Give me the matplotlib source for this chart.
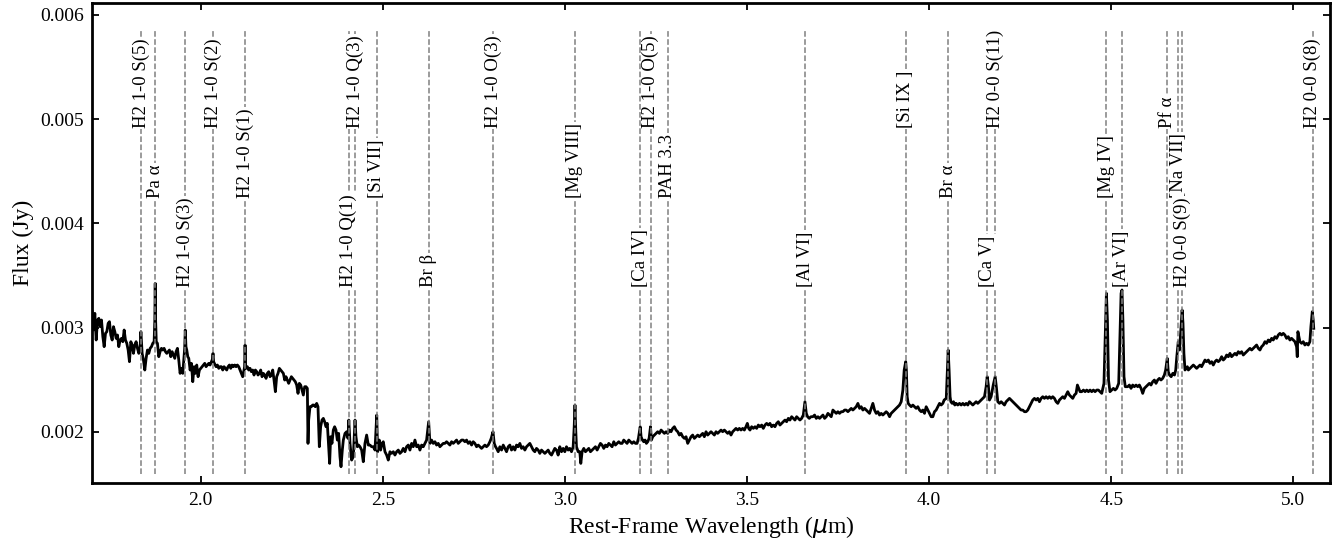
import numpy as np
import matplotlib
matplotlib.use("Agg")
import matplotlib.pyplot as plt

# rest-frame wavelength (micron) and flux (mJy)
wave = [
    1.7020, 1.7056, 1.7093, 1.7130, 1.7166, 1.7203, 1.7239, 1.7276, 1.7313, 1.7349,
    1.7386, 1.7422, 1.7459, 1.7495, 1.7532, 1.7569, 1.7605, 1.7642, 1.7678, 1.7715,
    1.7751, 1.7788, 1.7825, 1.7861, 1.7898, 1.7934, 1.7971, 1.8008, 1.8044, 1.8081,
    1.8117, 1.8154, 1.8190, 1.8227, 1.8264, 1.8300, 1.8337, 1.8358, 1.8392, 1.8428,
    1.8465, 1.8501, 1.8538, 1.8575, 1.8611, 1.8648, 1.8684, 1.8721, 1.8740, 1.8751,
    1.8762, 1.8780, 1.8812, 1.8849, 1.8885, 1.8922, 1.8959, 1.8995, 1.9032, 1.9068,
    1.9105, 1.9141, 1.9178, 1.9215, 1.9251, 1.9288, 1.9324, 1.9361, 1.9398, 1.9434,
    1.9471, 1.9507, 1.9544, 1.9560, 1.9576, 1.9595, 1.9617, 1.9645, 1.9672, 1.9709,
    1.9745, 1.9782, 1.9818, 1.9855, 1.9891, 1.9928, 1.9965, 2.0001, 2.0038, 2.0074,
    2.0111, 2.0147, 2.0184, 2.0221, 2.0257, 2.0294, 2.0320, 2.0338, 2.0355, 2.0376,
    2.0422, 2.0458, 2.0495, 2.0532, 2.0568, 2.0605, 2.0641, 2.0678, 2.0714, 2.0751,
    2.0788, 2.0824, 2.0861, 2.0897, 2.0934, 2.0971, 2.1007, 2.1044, 2.1080, 2.1117,
    2.1153, 2.1190, 2.1205, 2.1218, 2.1232, 2.1245, 2.1281, 2.1318, 2.1355, 2.1391,
    2.1428, 2.1464, 2.1501, 2.1538, 2.1574, 2.1611, 2.1647, 2.1684, 2.1720, 2.1757,
    2.1794, 2.1830, 2.1867, 2.1903, 2.1940, 2.1977, 2.2013, 2.2050, 2.2086, 2.2123,
    2.2159, 2.2196, 2.2232, 2.2269, 2.2306, 2.2342, 2.2379, 2.2415, 2.2452, 2.2489,
    2.2525, 2.2562, 2.2598, 2.2635, 2.2672, 2.2708, 2.2745, 2.2781, 2.2818, 2.2855,
    2.2891, 2.2928, 2.2946, 2.2964, 2.3001, 2.3037, 2.3074, 2.3110, 2.3147, 2.3184,
    2.3220, 2.3257, 2.3293, 2.3330, 2.3367, 2.3403, 2.3440, 2.3476, 2.3513, 2.3540,
    2.3568, 2.3604, 2.3641, 2.3677, 2.3714, 2.3751, 2.3787,
    2.3824, 2.3852, 2.3888, 2.3916, 2.3962, 2.4007, 2.4044, 2.4066, 2.4099, 2.4144,
    2.4190, 2.4237, 2.4263, 2.4300, 2.4336, 2.4373, 2.4419, 2.4464, 2.4510, 2.4556,
    2.4602, 2.4647, 2.4693, 2.4739, 2.4785, 2.4833, 2.4858, 2.4903, 2.4940, 2.4977,
    2.5013, 2.5059, 2.5105, 2.5150, 2.5196, 2.5242, 2.5288, 2.5333, 2.5379, 2.5425,
    2.5470, 2.5516, 2.5562, 2.5608, 2.5653, 2.5699, 2.5745, 2.5791, 2.5836, 2.5882,
    2.5928, 2.5973, 2.6019, 2.6065, 2.6111, 2.6156, 2.6202, 2.6259, 2.6294, 2.6339,
    2.6385, 2.6431, 2.6476, 2.6522, 2.6568, 2.6614, 2.6659, 2.6705, 2.6751, 2.6797,
    2.6842, 2.6888, 2.6934, 2.6979, 2.7025, 2.7071, 2.7117, 2.7162, 2.7208, 2.7254,
    2.7300, 2.7345, 2.7391, 2.7437, 2.7482, 2.7528, 2.7574, 2.7620, 2.7665, 2.7711,
    2.7757, 2.7803, 2.7848, 2.7894, 2.7940, 2.7976, 2.8025, 2.8059, 2.8095, 2.8123,
    2.8168, 2.8214, 2.8260, 2.8306, 2.8351, 2.8397, 2.8443, 2.8488, 2.8534, 2.8580,
    2.8626, 2.8671, 2.8717, 2.8763, 2.8809, 2.8854, 2.8900, 2.8946, 2.8991, 2.9037,
    2.9083, 2.9129, 2.9174, 2.9220, 2.9266, 2.9311, 2.9357, 2.9403, 2.9449, 2.9494,
    2.9540, 2.9586, 2.9632, 2.9677, 2.9723, 2.9769, 2.9814, 2.9860, 2.9906, 2.9952,
    2.9997, 3.0043, 3.0089, 3.0134, 3.0180, 3.0226, 3.0255, 3.0276, 3.0297,
    3.0317, 3.0363, 3.0408, 3.0436, 3.0472, 3.0518, 3.0564, 3.0610, 3.0655, 3.0701,
    3.0747, 3.0792, 3.0838, 3.0884, 3.0930, 3.0975, 3.1021, 3.1067, 3.1113, 3.1158,
    3.1204, 3.1250, 3.1295, 3.1341, 3.1387, 3.1433, 3.1478, 3.1524, 3.1570, 3.1615,
    3.1661, 3.1707, 3.1753, 3.1798, 3.1844, 3.1890, 3.1936, 3.1981, 3.2018, 3.2067,
    3.2091, 3.2128, 3.2164, 3.2201, 3.2237, 3.2274, 3.2311, 3.2350, 3.2375, 3.2411,
    3.2457, 3.2503, 3.2548, 3.2594, 3.2640, 3.2685, 3.2731, 3.2777, 3.2823, 3.2868,
    3.2914, 3.2960, 3.3005, 3.3051, 3.3097, 3.3143, 3.3188, 3.3234, 3.3280, 3.3326,
    3.3371, 3.3417, 3.3463, 3.3508, 3.3554, 3.3600, 3.3646, 3.3691, 3.3737, 3.3783,
    3.3828, 3.3874, 3.3920, 3.3966, 3.4011, 3.4057, 3.4103, 3.4148, 3.4194, 3.4240,
    3.4286, 3.4331, 3.4377, 3.4423, 3.4469, 3.4514, 3.4560, 3.4606, 3.4651, 3.4697,
    3.4743, 3.4789, 3.4834, 3.4880, 3.4926, 3.4971, 3.5008, 3.5045, 3.5081, 3.5127,
    3.5173, 3.5219, 3.5264, 3.5310, 3.5356, 3.5402, 3.5447, 3.5493, 3.5539, 3.5584,
    3.5630, 3.5676, 3.5722, 3.5767, 3.5813, 3.5859, 3.5904, 3.5950, 3.5996, 3.6042,
    3.6087, 3.6133, 3.6179, 3.6225, 3.6270, 3.6316, 3.6362, 3.6407, 3.6453, 3.6499,
    3.6545, 3.6590, 3.6627, 3.6663, 3.6709, 3.6755,
    3.6809, 3.6855, 3.6901, 3.6947, 3.6992, 3.7038, 3.7084, 3.7130, 3.7175, 3.7221,
    3.7267, 3.7312, 3.7358, 3.7404, 3.7450, 3.7495, 3.7541, 3.7587, 3.7632, 3.7678,
    3.7724, 3.7770, 3.7815, 3.7861, 3.7907, 3.7952, 3.7998, 3.8044, 3.8090, 3.8135,
    3.8181, 3.8227, 3.8272, 3.8318, 3.8364, 3.8410, 3.8455, 3.8501, 3.8547, 3.8593,
    3.8638, 3.8684, 3.8730, 3.8775, 3.8821, 3.8867, 3.8913, 3.8958, 3.9004, 3.9050,
    3.9096, 3.9141, 3.9187, 3.9233, 3.9279, 3.9315, 3.9340, 3.9357, 3.9375, 3.9397,
    3.9425, 3.9462, 3.9507, 3.9553, 3.9599, 3.9644, 3.9690, 3.9736, 3.9782, 3.9827,
    3.9873, 3.9919, 3.9965, 4.0010, 4.0056, 4.0102, 4.0147, 4.0193, 4.0239, 4.0285,
    4.0330, 4.0376, 4.0412, 4.0470, 4.0500, 4.0523, 4.0548, 4.0575, 4.0596, 4.0632,
    4.0669, 4.0705, 4.0742, 4.0787, 4.0833, 4.0879, 4.0925, 4.0970, 4.1016, 4.1062,
    4.1107, 4.1153, 4.1199, 4.1245, 4.1290, 4.1336, 4.1382, 4.1428, 4.1473, 4.1519,
    4.1565, 4.1594, 4.1625, 4.1656, 4.1702, 4.1760, 4.1813, 4.1845, 4.1885, 4.1931,
    4.1977, 4.2022, 4.2068, 4.2114, 4.2159, 4.2205, 4.2251, 4.2297, 4.2342, 4.2388,
    4.2434, 4.2479, 4.2525, 4.2571, 4.2617, 4.2662, 4.2708, 4.2754, 4.2800, 4.2845,
    4.2891, 4.2937, 4.2982, 4.3028, 4.3074, 4.3120, 4.3165, 4.3211, 4.3257, 4.3302,
    4.3348,
    4.3394, 4.3440, 4.3486, 4.3532, 4.3577, 4.3623, 4.3669, 4.3715, 4.3760, 4.3806,
    4.3852, 4.3897, 4.3943, 4.3989, 4.4035, 4.4071, 4.4108, 4.4144, 4.4190, 4.4236,
    4.4282, 4.4327, 4.4373, 4.4419, 4.4464, 4.4510, 4.4556, 4.4602, 4.4647, 4.4693,
    4.4739, 4.4800, 4.4835, 4.4867, 4.4895, 4.4925, 4.4965, 4.5013, 4.5059, 4.5105,
    4.5150, 4.5205, 4.5240, 4.5270, 4.5295, 4.5320, 4.5350, 4.5385, 4.5452, 4.5498,
    4.5543, 4.5589, 4.5635, 4.5681, 4.5726, 4.5772, 4.5818, 4.5864, 4.5909, 4.5955,
    4.6001, 4.6046, 4.6092, 4.6138, 4.6184, 4.6229, 4.6275, 4.6321, 4.6366, 4.6412,
    4.6458, 4.6494, 4.6538, 4.6565, 4.6600, 4.6645, 4.6690, 4.6736, 4.6770, 4.6800,
    4.6840, 4.6875, 4.6912, 4.6946, 4.6970, 4.6995, 4.7025, 4.7060, 4.7090, 4.7117,
    4.7162, 4.7208, 4.7254, 4.7299, 4.7345, 4.7391, 4.7437, 4.7482, 4.7528, 4.7574,
    4.7619, 4.7665, 4.7711, 4.7757, 4.7802, 4.7848, 4.7894, 4.7940, 4.7985, 4.8031,
    4.8077, 4.8122, 4.8168, 4.8214, 4.8260, 4.8305, 4.8351, 4.8397, 4.8442, 4.8488,
    4.8534, 4.8580, 4.8625, 4.8671, 4.8717, 4.8763, 4.8808, 4.8854, 4.8900, 4.8945,
    4.8991, 4.9037, 4.9083, 4.9128, 4.9174, 4.9220, 4.9265, 4.9311, 4.9357, 4.9403,
    4.9448, 4.9494, 4.9540, 4.9586, 4.9631, 4.9677, 4.9723, 4.9768, 4.9814, 4.9860,
    4.9906, 4.9951, 4.9997, 5.0043, 5.0089, 5.0107, 5.0125, 5.0143, 5.0180, 5.0226,
    5.0272, 5.0317, 5.0363, 5.0409, 5.0454, 5.0482, 5.0520, 5.0545, 5.0560,
]

flux_mjy = [
    3.153, 2.977, 3.137, 2.881, 3.073, 3.089, 3.009, 3.073, 2.913, 2.817,
    2.945, 2.961, 3.041, 3.057, 2.929, 2.881, 3.009, 2.961, 2.897, 2.929,
    2.817, 2.881, 2.897, 2.865, 2.977, 2.881, 2.849, 2.785, 2.673, 2.865,
    2.833, 2.753, 2.833, 2.865, 2.801, 2.753, 2.817, 2.961, 2.753, 2.689,
    2.593, 2.705, 2.785, 2.753, 2.801, 2.817, 2.849, 2.865, 3.073, 3.425,
    3.073, 2.865, 2.849, 2.721, 2.769, 2.801, 2.785, 2.801, 2.769, 2.753,
    2.769, 2.785, 2.721, 2.769, 2.737, 2.705, 2.769, 2.801, 2.689, 2.561,
    2.609, 2.561, 2.721, 2.801, 2.977, 2.817, 2.785, 2.721, 2.705, 2.593,
    2.657, 2.481, 2.625, 2.561, 2.641, 2.529, 2.593, 2.609, 2.625, 2.641,
    2.657, 2.625, 2.641, 2.657, 2.641, 2.673, 2.695, 2.753, 2.673, 2.657,
    2.625, 2.641, 2.609, 2.625, 2.625, 2.593, 2.625, 2.609, 2.593, 2.625,
    2.641, 2.609, 2.641, 2.625, 2.641, 2.625, 2.641, 2.625, 2.593, 2.561,
    2.529, 2.593, 2.625, 2.833, 2.641, 2.609, 2.625, 2.593, 2.609, 2.577,
    2.593, 2.545, 2.593, 2.577, 2.545, 2.561, 2.593, 2.529, 2.561, 2.545,
    2.513, 2.561, 2.577, 2.529, 2.545, 2.593, 2.497, 2.385, 2.529, 2.561,
    2.609, 2.593, 2.577, 2.561, 2.497, 2.529, 2.497, 2.465, 2.497, 2.529,
    2.513, 2.497, 2.481, 2.449, 2.369, 2.465, 2.449, 2.401, 2.353, 2.433,
    2.433, 2.417, 1.889, 2.113, 2.241, 2.241, 2.257, 2.257, 2.241, 2.273,
    2.241, 1.857, 2.049, 2.113, 2.129, 2.097, 2.049, 2.081, 1.857, 1.697,
    1.953, 1.889, 2.017, 2.049, 2.017, 1.921, 1.985,
    1.761, 1.665, 1.825, 1.921, 1.985, 2.001, 1.937, 2.113, 1.889, 1.729,
    1.761, 2.113, 1.953, 1.857, 1.873, 1.857, 1.825, 1.713, 1.889, 1.969,
    1.873, 1.873, 1.857, 1.857, 1.825, 2.161, 1.809, 1.921, 1.825, 1.889,
    1.905, 1.809, 1.777, 1.729, 1.809, 1.793, 1.809, 1.777, 1.809, 1.825,
    1.793, 1.809, 1.841, 1.809, 1.857, 1.873, 1.825, 1.889, 1.857, 1.921,
    1.857, 1.873, 1.825, 1.873, 1.857, 1.889, 1.921, 2.097, 1.889, 1.921,
    1.889, 1.905, 1.873, 1.889, 1.857, 1.873, 1.889, 1.889, 1.905, 1.889,
    1.873, 1.905, 1.889, 1.905, 1.921, 1.889, 1.905, 1.921, 1.921, 1.905,
    1.921, 1.889, 1.905, 1.873, 1.905, 1.889, 1.857, 1.873, 1.857, 1.841,
    1.857, 1.873, 1.857, 1.873, 1.905, 1.937, 2.001, 1.889, 1.857, 1.841,
    1.809, 1.857, 1.825, 1.873, 1.841, 1.809, 1.857, 1.873, 1.825, 1.857,
    1.825, 1.873, 1.857, 1.889, 1.841, 1.857, 1.825, 1.857, 1.873, 1.889,
    1.857, 1.825, 1.809, 1.841, 1.825, 1.793, 1.825, 1.809, 1.793, 1.809,
    1.825, 1.793, 1.777, 1.809, 1.841, 1.825, 1.777, 1.857, 1.809, 1.841,
    1.809, 1.857, 1.825, 1.841, 1.809, 1.857, 2.049, 2.257, 2.017,
    1.857, 1.809, 1.809, 1.697, 1.809, 1.841, 1.809, 1.825, 1.841, 1.809,
    1.825, 1.841, 1.857, 1.825, 1.857, 1.889, 1.873, 1.841, 1.873, 1.857,
    1.889, 1.873, 1.857, 1.905, 1.873, 1.889, 1.905, 1.889, 1.889, 1.921,
    1.905, 1.889, 1.921, 1.905, 1.889, 1.905, 1.889, 1.889, 1.937, 2.049,
    1.953, 1.921, 1.905, 1.921, 1.889, 1.905, 1.937, 2.049, 1.921, 1.953,
    1.969, 1.985, 2.001, 1.985, 2.017, 2.001, 1.985, 2.001, 1.985, 2.017,
    2.001, 2.033, 2.049, 2.017, 2.001, 1.969, 1.985, 1.953, 1.937, 1.953,
    1.889, 1.921, 1.953, 1.969, 1.937, 1.953, 1.969, 1.953, 1.969, 1.985,
    1.953, 2.001, 1.969, 1.985, 2.001, 1.985, 1.969, 2.001, 1.985, 2.001,
    2.017, 2.001, 2.017, 2.001, 1.985, 2.001, 1.969, 2.001, 2.017, 2.033,
    2.017, 2.033, 2.017, 2.033, 2.017, 2.049, 2.081, 2.033, 2.017, 2.049,
    2.033, 2.049, 2.033, 2.065, 2.049, 2.065, 2.033, 2.065, 2.081, 2.065,
    2.081, 2.049, 2.065, 2.049, 2.081, 2.097, 2.065, 2.081, 2.097, 2.113,
    2.097, 2.129, 2.113, 2.145, 2.129, 2.113, 2.145, 2.129, 2.113, 2.129,
    2.161, 2.289, 2.177, 2.145, 2.129, 2.145,
    2.145, 2.161, 2.129, 2.145, 2.129, 2.145, 2.161, 2.129, 2.145, 2.177,
    2.161, 2.145, 2.209, 2.193, 2.177, 2.193, 2.177, 2.193, 2.193, 2.209,
    2.209, 2.193, 2.209, 2.225, 2.209, 2.225, 2.241, 2.273, 2.225, 2.241,
    2.209, 2.225, 2.209, 2.193, 2.177, 2.225, 2.273, 2.209, 2.177, 2.193,
    2.161, 2.177, 2.161, 2.177, 2.193, 2.177, 2.145, 2.177, 2.193, 2.209,
    2.225, 2.241, 2.257, 2.289, 2.401, 2.593, 2.641, 2.673, 2.593, 2.337,
    2.273, 2.257, 2.241, 2.257, 2.241, 2.225, 2.241, 2.209, 2.193, 2.209,
    2.177, 2.241, 2.209, 2.177, 2.145, 2.145, 2.193, 2.209, 2.241, 2.273,
    2.257, 2.273, 2.305, 2.321, 2.593, 2.785, 2.593, 2.337, 2.289, 2.273,
    2.289, 2.257, 2.273, 2.257, 2.273, 2.257, 2.273, 2.257, 2.273, 2.257,
    2.289, 2.273, 2.257, 2.273, 2.289, 2.273, 2.289, 2.305, 2.321, 2.337,
    2.433, 2.529, 2.449, 2.305, 2.337, 2.449, 2.529, 2.433, 2.289, 2.273,
    2.289, 2.273, 2.257, 2.289, 2.305, 2.321, 2.305, 2.289, 2.273, 2.257,
    2.241, 2.225, 2.209, 2.209, 2.193, 2.193, 2.209, 2.241, 2.273, 2.305,
    2.321, 2.305, 2.321, 2.289, 2.321, 2.337, 2.321, 2.337, 2.321, 2.337,
    2.321,
    2.337, 2.321, 2.289, 2.273, 2.305, 2.321, 2.337, 2.321, 2.353, 2.385,
    2.353, 2.337, 2.321, 2.353, 2.369, 2.449, 2.417, 2.385, 2.385, 2.401,
    2.385, 2.401, 2.385, 2.401, 2.385, 2.401, 2.385, 2.401, 2.401, 2.385,
    2.369, 2.465, 2.913, 3.329, 3.073, 2.497, 2.385, 2.401, 2.417, 2.401,
    2.417, 2.465, 2.913, 3.329, 3.361, 3.073, 2.529, 2.433, 2.433, 2.449,
    2.417, 2.449, 2.433, 2.449, 2.433, 2.449, 2.417, 2.369, 2.417, 2.433,
    2.449, 2.465, 2.449, 2.481, 2.497, 2.465, 2.497, 2.513, 2.497, 2.513,
    2.545, 2.593, 2.705, 2.577, 2.545, 2.529, 2.561, 2.545, 2.593, 2.721,
    2.865, 2.785, 2.977, 3.169, 3.041, 2.753, 2.593, 2.609, 2.625, 2.593,
    2.609, 2.625, 2.641, 2.625, 2.609, 2.625, 2.641, 2.625, 2.657, 2.689,
    2.673, 2.689, 2.657, 2.673, 2.641, 2.673, 2.689, 2.673, 2.689, 2.721,
    2.689, 2.705, 2.737, 2.721, 2.753, 2.721, 2.737, 2.753, 2.737, 2.769,
    2.753, 2.769, 2.737, 2.753, 2.769, 2.785, 2.801, 2.785, 2.801, 2.817,
    2.833, 2.801, 2.785, 2.817, 2.833, 2.865, 2.849, 2.881, 2.865, 2.897,
    2.881, 2.913, 2.897, 2.929, 2.945, 2.929, 2.945, 2.929, 2.897, 2.913,
    2.881, 2.897, 2.881, 2.865, 2.817, 2.721, 2.961, 2.929, 2.865, 2.849,
    2.865, 2.833, 2.849, 2.833, 2.865, 3.009, 3.153, 3.073, 2.993,
]

# identified lines: label and rest wavelength (micron)
line_names = [
    "H2 1-0 S(5)", "Pa α", "H2 1-0 S(3)", "H2 1-0 S(2)", "H2 1-0 S(1)",
    "H2 1-0 Q(1)", "H2 1-0 Q(3)", "[Si VII]", "Br β", "H2 1-0 O(3)",
    "[Mg VIII]", "[Ca IV]", "H2 1-0 O(5)", "PAH 3.3", "[Al VI]",
    "[Si IX ]", "Br α", "[Ca V]", "H2 0-0 S(11)", "[Mg IV]",
    "[Ar VI]", "Pf α", "[Na VII]", "H2 0-0 S(9)", "H2 0-0 S(8)",
]
line_waves = [
    1.8358, 1.8751, 1.9576, 2.0338, 2.1218,
    2.4066, 2.4237, 2.4833, 2.6259, 2.8025,
    3.0276, 3.2067, 3.2350, 3.2820, 3.6600,
    3.9357, 4.0523, 4.1594, 4.1813, 4.4867,
    4.5295, 4.6538, 4.6840, 4.6946, 5.0531,
]

plt.rcParams["font.family"] = ["Liberation Serif", "DejaVu Serif"]
plt.rcParams["mathtext.fontset"] = "dejavusans"

fig = plt.figure(figsize=(13.42, 5.42), dpi=100)
ax = fig.add_axes([0.0686, 0.1083, 0.9221, 0.8856])

flux = np.array(flux_mjy) * 1e-3
ax.plot(wave, flux, color="black", lw=2.0, zorder=2)

# dashed markers, labels staggered on three heights
label_y = [0.004916, 0.004244, 0.003390]
ax.vlines(line_waves, 0.001595, 0.005856, colors="#808080",
          linestyles="--", lw=1.1, zorder=3)
for i, (name, lw_) in enumerate(zip(line_names, line_waves)):
    ax.text(lw_, label_y[i % 3], name, rotation=90, ha="center", va="bottom",
            fontsize=13.5, zorder=4,
            bbox=dict(facecolor="white", edgecolor="none", pad=1.0))

ax.set_xlim(1.7017, 5.0993)
ax.set_ylim(0.001506, 0.006112)
ax.set_yticks([0.002, 0.003, 0.004, 0.005, 0.006])
ax.set_xticks([2.0, 2.5, 3.0, 3.5, 4.0, 4.5, 5.0])
ax.tick_params(direction="in", top=True, right=True, length=5, width=1.3,
               labelsize=14, pad=6)
for s in ax.spines.values():
    s.set_linewidth(2.0)

ax.set_xlabel("Rest-Frame Wavelength ($\\mu$m)", fontsize=17)
ax.set_ylabel("Flux (Jy)", fontsize=17)

fig.savefig("out.png", dpi=100)
